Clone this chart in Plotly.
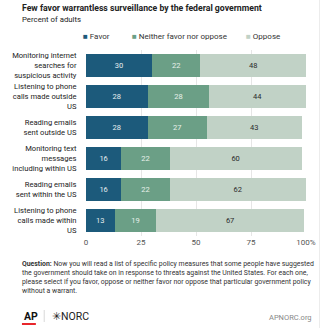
import plotly.graph_objects as go

categories = [
    "Monitoring internet<br>searches for<br>suspicious activity",
    "Listening to phone<br>calls made outside<br>US",
    "Reading emails<br>sent outside US",
    "Monitoring text<br>messages<br>including within US",
    "Reading emails<br>sent within the US",
    "Listening to phone<br>calls made within<br>US",
]
favor = [30, 28, 28, 16, 16, 13]
neither = [22, 28, 27, 22, 22, 19]
oppose = [48, 44, 43, 60, 62, 67]

series_names = ["Favor", "Neither favor nor oppose", "Oppose"]
colors = ["#1c5a7b", "#6b9f86", "#c1d2c6"]
text_colors = ["#e6eef0", "#e8f0ea", "#2b2b2b"]
tick_vals = [0, 25, 50, 75, 100]
tick_text = ["0", "25", "50", "75", "100%"]

FONT = "Roboto"
W, H = 328, 328
L, R, T, B = 76, 15, 50, 92
PW, PH = W - L - R, H - T - B


def px(x):
    return (x - L) / PW


def py(y):
    return (H - B - y) / PH


fig = go.Figure()
for name, vals, col, tcol in zip(series_names, [favor, neither, oppose], colors, text_colors):
    fig.add_trace(go.Bar(
        y=categories, x=vals, orientation="h", name=name,
        marker=dict(color=col, line=dict(width=0)),
        text=[str(v) for v in vals], textposition="inside",
        insidetextanchor="middle",
        textfont=dict(family=FONT, size=7.5, color=tcol),
        showlegend=False,
    ))

annotations = [
    dict(text="<b>Few favor warrantless surveillance by the federal government</b>",
         x=px(5), y=py(8), xref="paper", yref="paper", xanchor="left", yanchor="middle",
         showarrow=False, font=dict(family=FONT, size=8.7, color="#222")),
    dict(text="Percent of adults",
         x=px(5), y=py(19.5), xref="paper", yref="paper", xanchor="left", yanchor="middle",
         showarrow=False, font=dict(family=FONT, size=7.8, color="#222")),
]

# legend drawn as coloured squares with labels
legend_x = [71, 123, 246]
for name, col, lx in zip(series_names, colors, legend_x):
    annotations.append(dict(
        text=f"<span style='color:{col}'>■</span> {name}",
        x=px(lx), y=py(36.5), xref="paper", yref="paper", xanchor="left", yanchor="middle",
        showarrow=False, font=dict(family=FONT, size=8, color="#333")))

annotations.append(dict(
    text=("<b>Question:</b> Now you will read a list of specific policy measures that some people have suggested<br>"
          "the government should take on in response to threats against the United States. For each one,<br>"
          "please select if you favor, oppose or neither favor nor oppose that particular government policy<br>"
          "without a warrant."),
    x=px(5), y=py(257.5), xref="paper", yref="paper", xanchor="left", yanchor="top", align="left",
    showarrow=False, font=dict(family=FONT, size=6.9, color="#333")))

annotations += [
    dict(text="<b>AP</b>", x=px(7), y=py(316), xref="paper", yref="paper", xanchor="left",
         yanchor="middle", showarrow=False, font=dict(family=FONT, size=10.5, color="#111")),
    dict(text="✳NORC", x=px(37), y=py(316), xref="paper", yref="paper", xanchor="left",
         yanchor="middle", showarrow=False, font=dict(family=FONT, size=10.5, color="#222")),
    dict(text="APNORC.org", x=px(322), y=py(317), xref="paper", yref="paper", xanchor="right",
         yanchor="middle", showarrow=False, font=dict(family=FONT, size=7.5, color="#888")),
]

shapes = [
    dict(type="line", xref="paper", yref="paper", x0=px(7), x1=px(22), y0=py(324), y1=py(324),
         line=dict(color="#e8262b", width=2)),
    dict(type="line", xref="paper", yref="paper", x0=px(31), x1=px(31), y0=py(310), y1=py(322),
         line=dict(color="#d8d8d8", width=1)),
    dict(type="line", xref="paper", yref="paper", x0=px(327.5), x1=px(327.5), y0=py(0), y1=py(328),
         line=dict(color="#ececec", width=1)),
]

fig.update_layout(
    width=W, height=H, barmode="stack", bargap=0.24,
    margin=dict(l=L, r=R, t=T, b=B, pad=0),
    paper_bgcolor="white", plot_bgcolor="white",
    font=dict(family=FONT, color="#333"),
    annotations=annotations, shapes=shapes,
    xaxis=dict(range=[0, 100], tickvals=tick_vals, ticktext=tick_text,
               showgrid=True, gridcolor="#e6e6e6", gridwidth=1, zeroline=False,
               showline=False, ticks="", tickfont=dict(family=FONT, size=8, color="#555"),
               fixedrange=True),
    yaxis=dict(autorange="reversed", showgrid=False, zeroline=False, showline=False,
               ticks="outside", ticklen=7, tickcolor="rgba(0,0,0,0)",
               tickfont=dict(family=FONT, size=7.6, color="#222"), fixedrange=True),
    uniformtext=dict(mode="show", minsize=6),
)

fig.write_html("out.html", config={"displayModeBar": False})
